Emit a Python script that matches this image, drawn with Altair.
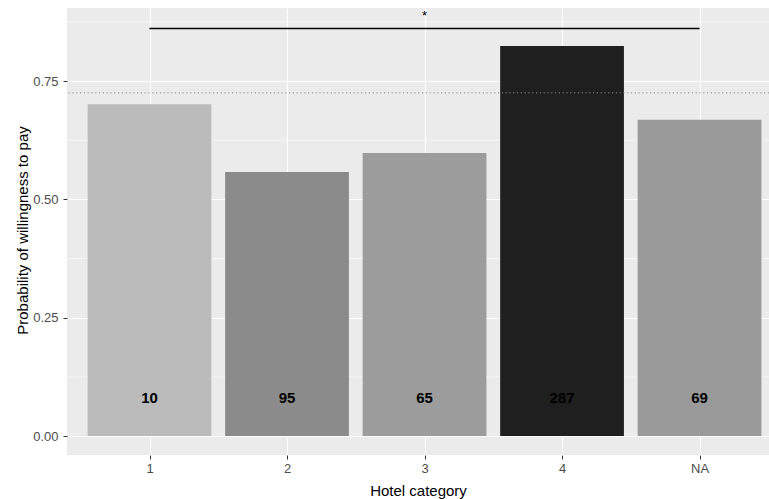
import altair as alt
import pandas as pd

# Willingness to pay by hotel category
categories = ["1", "2", "3", "4", "NA"]
positions = [1, 2, 3, 4, 5]
probability = [0.701, 0.558, 0.598, 0.824, 0.668]
counts = [10, 95, 65, 287, 69]

overall_mean = 0.725          # dotted reference line
bracket_from, bracket_to = 1, 5
bracket_y = 0.861
star_y = 0.888
label_y = 0.080

minor_breaks = [0.125, 0.375, 0.625, 0.875]

df = pd.DataFrame({"cat": categories, "pos": positions,
                   "p": probability, "n": counts, "ly": label_y})

W, H = 702, 447
font = "Liberation Sans"

xscale = alt.Scale(domain=[0.4, 5.505], nice=False, zero=False)
yscale = alt.Scale(domain=[-0.0401, 0.9043], nice=False, zero=False)

label_expr = "datum.value == 5 ? 'NA' : format(datum.value, 'd')"

xaxis = alt.Axis(values=positions, labelExpr=label_expr, title="Hotel category",
                 grid=True, gridColor="white", gridWidth=1.1, domain=False,
                 tickColor="#333333", tickSize=4, labelColor="#4D4D4D",
                 labelFont=font, labelFontSize=13, labelPadding=3,
                 titleFont=font, titleFontSize=15, titleFontWeight="normal",
                 titleColor="black", titleX=W / 2, titleY=35,
                 titleBaseline="middle", titleAlign="center")

yaxis = alt.Axis(values=[0, 0.25, 0.5, 0.75], format=".2f",
                 title="Probability of willingness to pay",
                 grid=True, gridColor="white", gridWidth=1.1, domain=False,
                 tickColor="#333333", tickSize=4, labelColor="#4D4D4D",
                 labelFont=font, labelFontSize=13, labelPadding=5,
                 titleFont=font, titleFontSize=15, titleFontWeight="normal",
                 titleColor="black", titleAngle=270, titleX=-45, titleY=222,
                 titleBaseline="middle", titleAlign="center")

base = alt.Chart(df)

minor = alt.Chart(pd.DataFrame({"y": minor_breaks})).mark_rule(
    color="white", strokeWidth=0.55
).encode(y=alt.Y("y:Q", scale=yscale, axis=yaxis))

bars = base.transform_calculate(
    x0="datum.pos - 0.45", x1="datum.pos + 0.45"
).mark_rect().encode(
    x=alt.X("x0:Q", scale=xscale, axis=xaxis),
    x2="x1:Q",
    y=alt.Y("p:Q", scale=yscale),
    y2=alt.datum(0),
    color=alt.Color("n:Q", legend=None,
                    scale=alt.Scale(domain=[10, 287],
                                    range=["#BBBBBB", "#1F1F1F"],
                                    interpolate="rgb")),
)

labels = base.mark_text(font=font, fontSize=15, fontWeight="bold",
                        color="black", baseline="middle").encode(
    x=alt.X("pos:Q", scale=xscale),
    y=alt.Y("ly:Q", scale=yscale),
    text="n:Q",
)

ref = alt.Chart(pd.DataFrame({"y": [overall_mean]})).mark_rule(
    color="#8C8C8C", strokeWidth=1, strokeDash=[1.2, 2.6]
).encode(y=alt.Y("y:Q", scale=yscale))

bracket = alt.Chart(pd.DataFrame({"x": [bracket_from], "x2": [bracket_to],
                                  "y": [bracket_y]})).mark_rule(
    color="black", strokeWidth=1.3
).encode(x=alt.X("x:Q", scale=xscale), x2="x2:Q",
         y=alt.Y("y:Q", scale=yscale))

star = alt.Chart(pd.DataFrame({"x": [(bracket_from + bracket_to) / 2],
                               "y": [star_y], "t": ["*"]})).mark_text(
    font=font, fontSize=13, color="black", baseline="middle"
).encode(x=alt.X("x:Q", scale=xscale), y=alt.Y("y:Q", scale=yscale), text="t:N")

chart = alt.layer(minor, bars, labels, ref, bracket, star).properties(
    width=W, height=H,
    padding={"left": 67, "top": 8, "right": 0, "bottom": 44},
    autosize=alt.AutoSizeParams(type="none"),
    background="white",
).configure_view(fill="#EBEBEB", stroke=None)

chart.save("out.html", embed_options={"renderer": "svg", "actions": False})
